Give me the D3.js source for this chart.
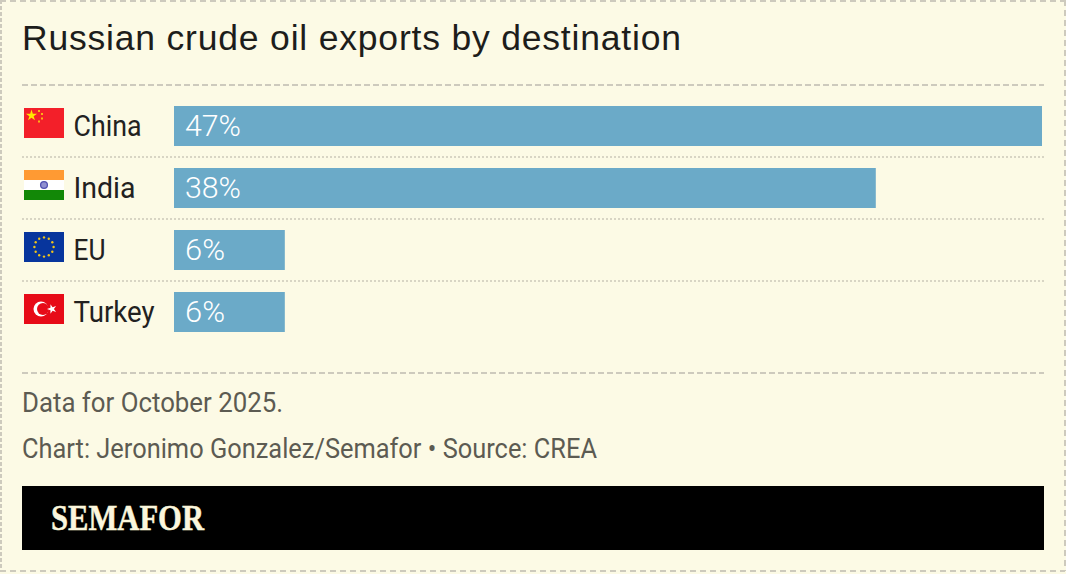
<!DOCTYPE html>
<html>
<head>
<meta charset="utf-8">
<script src="https://cdn.jsdelivr.net/npm/d3@7"></script>
<style>
html,body{margin:0;padding:0;background:#fcfae5;}
svg{display:block;}
</style>
</head>
<body>
<svg id="chart" width="1066" height="574"></svg>
<script>
const categories = ["China", "India", "EU", "Turkey"];
const values = [47, 38, 6, 6];
const flagKeys = ["cn", "in", "eu", "tr"];
const titleText = "Russian crude oil exports by destination";
const noteLines = ["Data for October 2025.", "Chart: Jeronimo Gonzalez/Semafor \u2022 Source: CREA"];
const brandText = "SEMAFOR";

const W = 1066, H = 574;
const bodyFont = "Roboto, 'Noto Sans', sans-serif";
const ruleColor = "#cdcabd";
const svg = d3.select("#chart");

svg.append("rect").attr("x", 0).attr("y", 0).attr("width", W).attr("height", H).attr("fill", "#fcfae5");

// Outer dashed frame, drawn side by side because the dash rhythm differs
const frame = [
  [0, 1, 1065, 1, "6 4"],
  [0, 571, 1065, 571, "6 4"],
  [1, 0, 1, 571, "4 2"],
  [1065, 0, 1065, 571, "6 4"]
];
svg.append("g").selectAll("line").data(frame).join("line")
  .attr("x1", d => d[0]).attr("y1", d => d[1]).attr("x2", d => d[2]).attr("y2", d => d[3])
  .attr("stroke", ruleColor).attr("stroke-width", 2).attr("stroke-dasharray", d => d[4]);

svg.append("text").attr("x", 22).attr("y", 50)
  .attr("font-family", "'Liberation Sans', Arial, sans-serif").attr("font-size", 35.5)
  .attr("fill", "#1d1d1b").attr("textLength", 659).attr("lengthAdjust", "spacing").text(titleText);

// Dashed rules above and below the bar block
[85, 373].forEach(y => {
  svg.append("line").attr("x1", 22).attr("x2", 1044).attr("y1", y).attr("y2", y)
    .attr("stroke", ruleColor).attr("stroke-width", 2).attr("stroke-dasharray", "6 3");
});

const x = d3.scaleLinear().domain([0, d3.max(values)]).range([174, 1042]);
// Four 40px bars on a 62px pitch
const y = d3.scaleBand().domain(categories).range([106, 332]).paddingInner(22 / 62).paddingOuter(0);

// Dotted separators between rows
svg.append("g").selectAll("line").data(categories.slice(0, -1)).join("line")
  .attr("x1", 22).attr("x2", 1044)
  .attr("y1", c => y(c) + y.bandwidth() + 11).attr("y2", c => y(c) + y.bandwidth() + 11)
  .attr("stroke", "#d8d5c4").attr("stroke-width", 2).attr("stroke-dasharray", "2 2");

const rows = svg.append("g").selectAll("g").data(categories).join("g");

rows.append("rect")
  .attr("x", x(0)).attr("y", c => y(c))
  .attr("width", (c, i) => x(values[i]) - x(0)).attr("height", y.bandwidth())
  .attr("fill", "#6baac8");

const labelWidths = {China: 68, India: 62, EU: 32, Turkey: 81};
rows.append("text")
  .attr("x", 73.5).attr("y", c => y(c) + 29.5)
  .attr("font-family", bodyFont).attr("font-size", 29).attr("fill", "#22211f")
  .attr("textLength", c => labelWidths[c]).attr("lengthAdjust", "spacingAndGlyphs")
  .text(c => c);

rows.append("text")
  .attr("x", 185).attr("y", c => y(c) + 30)
  .attr("font-family", bodyFont).attr("font-size", 30).attr("font-weight", 300).attr("fill", "#ffffff")
  .attr("textLength", (c, i) => values[i] > 9 ? 56 : 40).attr("lengthAdjust", "spacingAndGlyphs")
  .text((c, i) => values[i] + "%");

// Flags are 40 by 30 and sit 2px below the top of their bar
function drawFlag(g, key) {
  const rect = (x0, y0, w, h, fill) => g.append("rect").attr("x", x0).attr("y", y0).attr("width", w).attr("height", h).attr("fill", fill);
  const star = (cx, cy, r, fill, rot = 0) => g.append("path")
    .attr("d", d3.symbol().type(d3.symbolStar).size(r * r * 2.2)())
    .attr("transform", `translate(${cx},${cy}) rotate(${rot})`).attr("fill", fill);
  if (key === "cn") {
    rect(0, 0, 40, 30, "#f31f29");
    star(7.5, 7.5, 4.2, "#ffe600");
    [[15, 3], [18, 6], [18, 10.5], [15, 13.5]].forEach(p => rect(p[0] - 1, p[1] - 1, 2, 2, "#fbb515"));
  } else if (key === "in") {
    rect(0, 0, 40, 10, "#ff9a33");
    rect(0, 10, 40, 10, "#ffffff");
    rect(0, 20, 40, 10, "#128807");
    g.append("circle").attr("cx", 20).attr("cy", 15).attr("r", 3.4).attr("fill", "#8f8fd0").attr("stroke", "#5050b0").attr("stroke-width", 1.3);
  } else if (key === "eu") {
    rect(0, 0, 40, 30, "#07359d");
    d3.range(12).forEach(i => {
      const a = i * Math.PI / 6;
      g.append("circle").attr("cx", 20 + 9.6 * Math.sin(a)).attr("cy", 15 - 9.6 * Math.cos(a))
        .attr("r", 1.2).attr("fill", "#f0c419");
    });
  } else {
    rect(0, 0, 40, 30, "#e70b17");
    g.append("circle").attr("cx", 17).attr("cy", 15).attr("r", 7.5).attr("fill", "#ffffff");
    g.append("circle").attr("cx", 19).attr("cy", 15).attr("r", 6).attr("fill", "#e70b17");
    star(28, 15, 3.6, "#ffffff", -90);
  }
}
rows.append("g")
  .attr("transform", c => `translate(24,${y(c) + 2})`)
  .each(function (c, i) { drawFlag(d3.select(this), flagKeys[i]); });

// Footnotes
const noteWidths = [261, 575];
svg.append("g").selectAll("text").data(noteLines).join("text")
  .attr("x", 22).attr("y", (d, i) => 412 + i * 46)
  .attr("font-family", bodyFont).attr("font-size", 27).attr("fill", "#5c5b52")
  .attr("textLength", (d, i) => noteWidths[i]).attr("lengthAdjust", "spacingAndGlyphs")
  .text(d => d);

// Brand strip
svg.append("rect").attr("x", 22).attr("y", 486).attr("width", 1022).attr("height", 64).attr("fill", "#000000");
svg.append("text").attr("x", 51).attr("y", 530)
  .attr("font-family", "'Liberation Serif', serif").attr("font-weight", 700).attr("font-size", 36)
  .attr("fill", "#fbf6dc").attr("stroke", "#fbf6dc").attr("stroke-width", 0.5)
  .attr("textLength", 153).attr("lengthAdjust", "spacingAndGlyphs").text(brandText);
</script>
</body>
</html>
